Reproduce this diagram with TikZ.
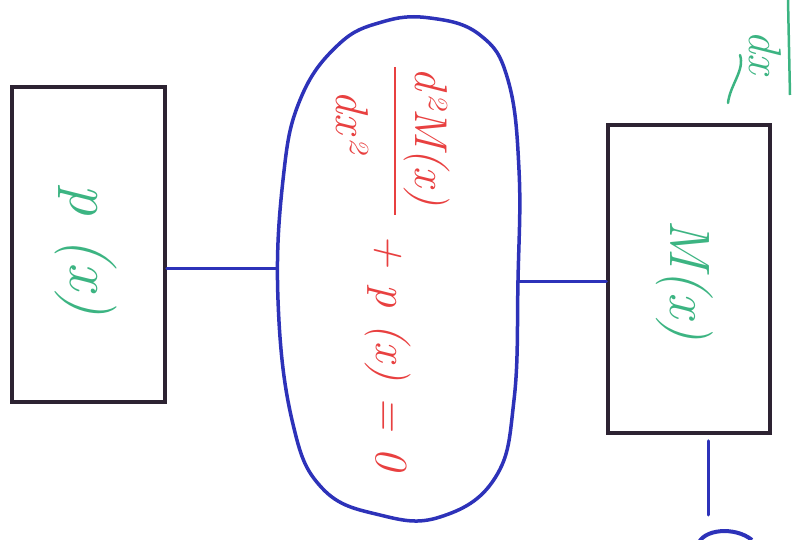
\documentclass[tikz,border=0pt]{standalone}
\usepackage{fontspec}
\usetikzlibrary{shapes.geometric}
\definecolor{inkblue}{RGB}{45,50,185}
\definecolor{inkred}{RGB}{232,64,64}
\definecolor{inkgreen}{RGB}{60,180,130}
\definecolor{inkdark}{RGB}{45,35,50}
\tikzset{
  boxnode/.style={draw=inkdark, line width=3.5pt, rectangle, inner sep=0pt},
  gtext/.style={text=inkgreen, rotate=-90, inner sep=0pt},
  rtext/.style={text=inkred, rotate=-90, inner sep=0pt, font=\fontsize{46}{50}\selectfont\itshape},
  link/.style={draw=inkblue, line width=3pt, line cap=round},
}
\begin{document}
\begin{tikzpicture}[x=1pt,y=1pt]
\useasboundingbox (0,0) rectangle (803,539);
\clip (0,0) rectangle (803,539);
% left box
\node[boxnode, minimum width=153pt, minimum height=315pt] (pbox) at (88.5,294.5) {};
\node[gtext, font=\fontsize{62}{66}\selectfont\itshape] (ptext) at (86,289) {p (x)};
% right box
\node[boxnode, minimum width=162pt, minimum height=308pt] (mbox) at (689,260) {};
\node[gtext, font=\fontsize{57}{60}\selectfont\itshape] (mtext) at (685,259) {M(x)};
% blob
\draw[inkblue, line width=3.5pt] plot[smooth cycle, tension=0.7] coordinates {
 (430,521) (480,504) (508,459) (519,369) (518,259) (514,139) (495,61) (440,22)
 (380,24) (322,51) (292,119) (278,239) (283,359) (300,439) (338,494) (382,517)};
% equation
\node[rtext] (num) at (427,402) {d²M(x)};
\node[rtext] (den) at (352,418) {dx²};
\coordinate (bartop) at (395,472);
\coordinate (barbot) at (395,324);
\draw[inkred, line width=2.5pt] (bartop) -- (barbot);
\node[rtext] (rest) at (388,187) {+ p (x) = 0};
\coordinate (bl) at (277,271);
\coordinate (br) at (519,258);
% connectors
\draw[link] (pbox.east |- bl) -- (bl);
\draw[link] (br) -- (mbox.west |- br);
\coordinate (dn) at (708,24);
\draw[link] (mbox.south -| dn) ++(0,-6) -- (dn);
% partial shapes at edges
\draw[inkblue, line width=4pt] (698,-6) .. controls (702,10) and (735,13) .. (752,-1);
\draw[inkgreen, line width=2.5pt] (788,539) -- (790,444);
\node[gtext, font=\fontsize{46}{50}\selectfont\itshape] (dxtext) at (765,487) {dx};
\draw[inkgreen, line width=2.5pt, line cap=round] (740,484) .. controls (745,469) and (730,454) .. (728,436);
\end{tikzpicture}
\end{document}
